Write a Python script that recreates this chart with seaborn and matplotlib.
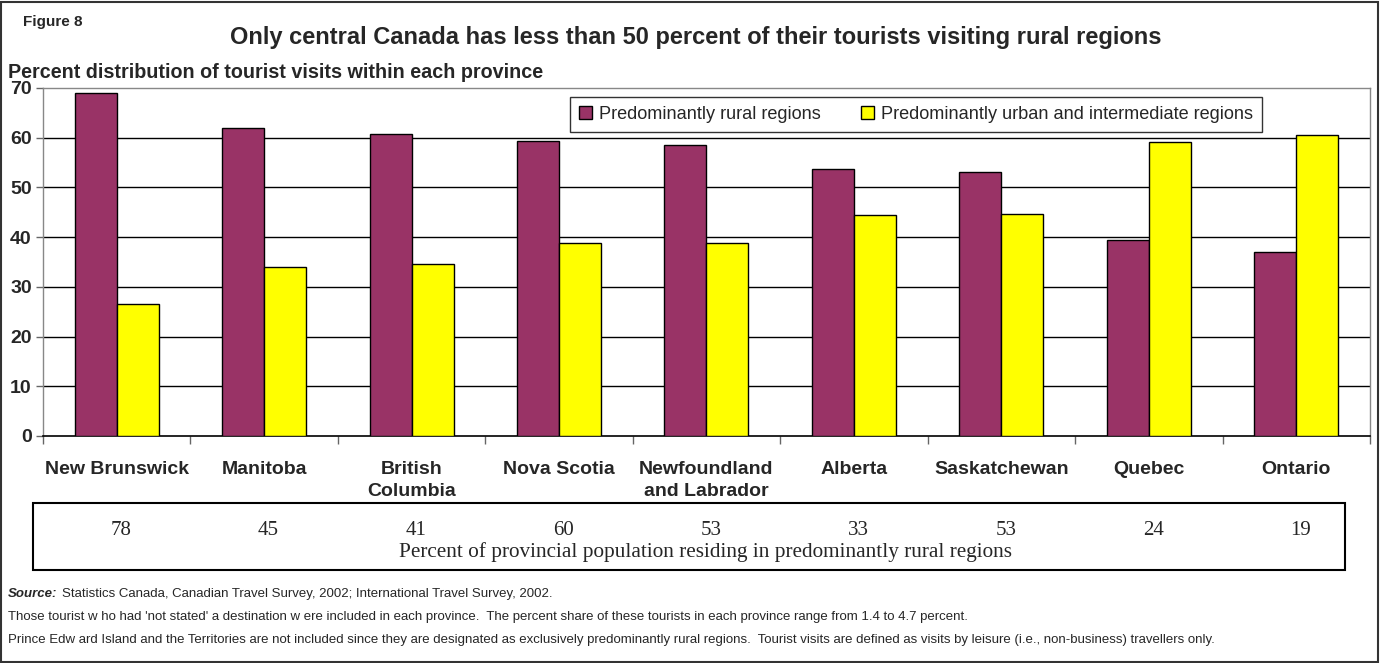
import matplotlib
matplotlib.use("Agg")
import matplotlib.pyplot as plt
from matplotlib.patches import Rectangle
from matplotlib.ticker import MultipleLocator
import pandas as pd
import seaborn as sns

provinces = ["New Brunswick", "Manitoba", "British\nColumbia", "Nova Scotia",
             "Newfoundland\nand Labrador", "Alberta", "Saskatchewan", "Quebec", "Ontario"]
rural_share = [68.9, 62.0, 60.7, 59.3, 58.5, 53.8, 53.1, 39.4, 37.0]
urban_share = [26.6, 34.0, 34.6, 38.9, 38.9, 44.4, 44.6, 59.1, 60.5]
series_names = ["Predominantly rural regions",
                "Predominantly urban and intermediate regions"]
rural_population_pct = ["78", "45", "41", "60", "53", "33", "53", "24", "19"]

df = pd.DataFrame({
    "province": provinces * 2,
    "share": rural_share + urban_share,
    "region": [series_names[0]] * len(provinces) + [series_names[1]] * len(provinces),
})

sns.set_theme(style="white")
plt.rcParams["font.family"] = ["Liberation Sans", "DejaVu Sans"]

fig = plt.figure(figsize=(13.81, 6.63), dpi=100)
ax = fig.add_axes([0.0311, 0.3424, 0.9609, 0.5249])

sns.barplot(data=df, x="province", y="share", hue="region", order=provinces,
            hue_order=series_names, palette=["#993366", "#FFFF00"], saturation=1,
            width=0.57, edgecolor="black", linewidth=1.0, ax=ax,
            errorbar=None, legend=True, zorder=3)

ax.set_xlim(-0.5, len(provinces) - 0.5)
ax.set_ylim(0, 70)
ax.yaxis.set_major_locator(MultipleLocator(10))
ax.set_xlabel("")
ax.set_ylabel("")

for v in range(10, 70, 10):
    ax.axhline(v, color="black", linewidth=1.0, zorder=1)

for side in ["top", "right", "left"]:
    ax.spines[side].set_visible(True)
    ax.spines[side].set_color("#888888")
    ax.spines[side].set_linewidth(1.0)
ax.spines["bottom"].set_color("black")
ax.spines["bottom"].set_linewidth(1.2)

ax.tick_params(axis="y", which="major", direction="out", length=5, width=1,
               color="#666666", labelsize=14, pad=3, left=True)
for lbl in ax.get_yticklabels():
    lbl.set_fontweight("bold")

ax.set_xticks(range(len(provinces)))
ax.set_xticklabels(provinces, fontsize=14, fontweight="bold", linespacing=1.42, va="top")
ax.tick_params(axis="x", which="major", length=0, pad=18)
ax.set_xticks([i + 0.5 for i in range(-1, len(provinces))], minor=True)
ax.tick_params(axis="x", which="minor", direction="out", length=6, width=1,
               color="#666666", bottom=True)

leg = ax.legend(loc="upper left", bbox_to_anchor=(0.4127, 0.8537),
                bbox_transform=fig.transFigure, ncol=2, frameon=True,
                fancybox=False, fontsize=13.1, handlelength=0.7, handleheight=0.7,
                handletextpad=0.4, columnspacing=2.2, borderpad=0.5,
                borderaxespad=0)
leg.get_frame().set_edgecolor("black")
leg.get_frame().set_linewidth(1.0)
leg.set_zorder(5)

# Titles
fig.text(0.5036, 0.943, "Only central Canada has less than 50 percent of their tourists visiting rural regions",
         ha="center", va="center", fontsize=17, fontweight="bold")
fig.text(0.0167, 0.967, "Figure 8", ha="left", va="center", fontsize=11, fontweight="bold")
fig.text(0.0058, 0.891, "Percent distribution of tourist visits within each province",
         ha="left", va="center", fontsize=14.2, fontweight="bold")

# Table of rural population share below the categories
fig.add_artist(Rectangle((0.0239, 0.1403), 0.950, 0.101, transform=fig.transFigure,
                         fill=False, edgecolor="black", linewidth=1.5))
row_trans = matplotlib.transforms.blended_transform_factory(ax.transData, fig.transFigure)
for i, val in enumerate(rural_population_pct):
    ax.text(i + 0.03, 0.2006, val, transform=row_trans, ha="center", va="center",
            fontsize=15, family="Liberation Serif", clip_on=False)
fig.text(0.5105, 0.1674, "Percent of provincial population residing in predominantly rural regions",
         ha="center", va="center", fontsize=15.3, family="Liberation Serif")

# Footnotes
fig.canvas.draw()
renderer = fig.canvas.get_renderer()
src = fig.text(0.0058, 0.104, "Source:", ha="left", va="center", fontsize=9.5,
               fontweight="bold", fontstyle="italic")
bb = src.get_window_extent(renderer)
x_next = (bb.x1 + 5) / fig.bbox.width
fig.text(x_next, 0.104, "Statistics Canada, Canadian Travel Survey, 2002; International Travel Survey, 2002.",
         ha="left", va="center", fontsize=9.5)
fig.text(0.0058, 0.069,
         "Those tourist w ho had 'not stated' a destination w ere included in each province.  "
         "The percent share of these tourists in each province range from 1.4 to 4.7 percent.",
         ha="left", va="center", fontsize=9.5)
fig.text(0.0058, 0.035,
         "Prince Edw ard Island and the Territories are not included since they are designated as "
         "exclusively predominantly rural regions.  Tourist visits are defined as visits by leisure "
         "(i.e., non-business) travellers only.",
         ha="left", va="center", fontsize=9.5)

# Outer frame
fig.add_artist(Rectangle((0.001, 0.0015), 0.997, 0.996, transform=fig.transFigure,
                         fill=False, edgecolor="#333333", linewidth=1.5))

fig.savefig("out.png", dpi=100)
